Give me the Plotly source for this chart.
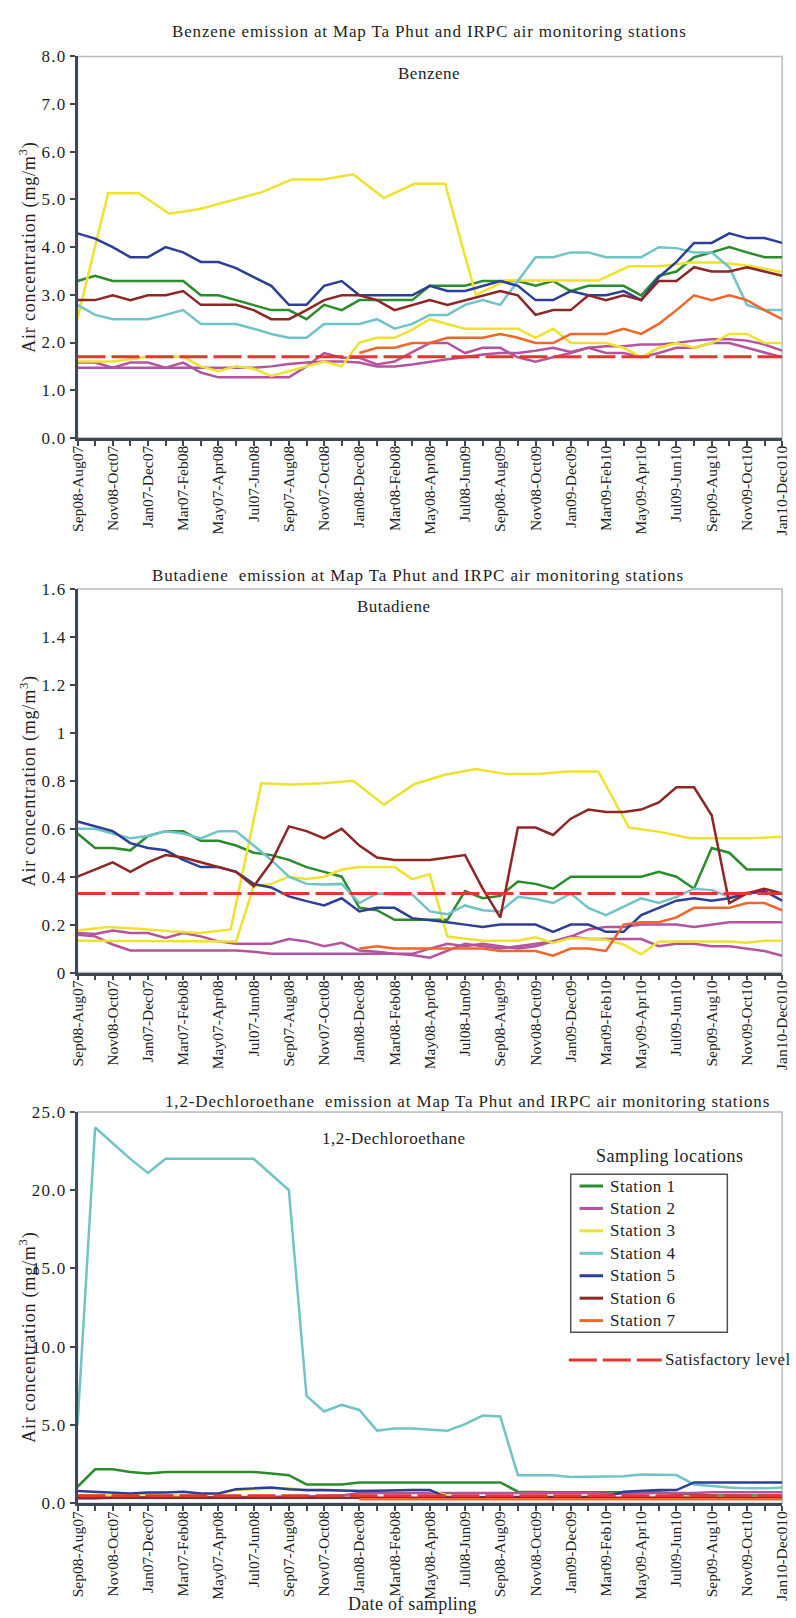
import plotly.graph_objects as go

# ---------------------------------------------------------------- data
period_labels = [
    "Sep08-Aug07", "Nov08-Oct07", "Jan07-Dec07", "Mar07-Feb08", "May07-Apr08",
    "Jul07-Jun08", "Sep07-Aug08", "Nov07-Oct08", "Jan08-Dec08", "Mar08-Feb08",
    "May08-Apr08", "Jul08-Jun09", "Sep08-Aug09", "Nov08-Oct09", "Jan09-Dec09",
    "Mar09-Feb10", "May09-Apr10", "Jul09-Jun10", "Sep09-Aug10", "Nov09-Oct10",
    "Jan10-Dec010",
]
months = list(range(41))                 # monthly sampling index
label_months = list(range(0, 41, 2))
# station 3 (upper record) was sampled 24 times over the same period
s3_samples = [k * 40 / 23 for k in range(24)]

stations = ["Station 1", "Station 2", "Station 3", "Station 4",
            "Station 5", "Station 6", "Station 7"]

benzene_ticks = ["0.0", "1.0", "2.0", "3.0", "4.0", "5.0", "6.0", "7.0", "8.0"]
butadiene_ticks = ["0", "0.2", "0.4", "0.6", "0.8", "1", "1.2", "1.4", "1.6"]
dce_ticks = ["0.0", "5.0", "10.0", "15.0", "20.0", "25.0"]

# Benzene (mg/m3)
benzene_s1 = [3.29, 3.40, 3.29, 3.29, 3.29, 3.29, 3.29, 2.99, 2.99, 2.89, 2.79, 2.68, 2.68, 2.49,
              2.79, 2.68, 2.89, 2.89, 2.89, 2.89, 3.19, 3.19, 3.19, 3.29, 3.29, 3.29, 3.19, 3.29,
              3.08, 3.19, 3.19, 3.19, 2.99, 3.40, 3.49, 3.79, 3.89, 4.00, 3.89, 3.79, 3.79]
benzene_s2 = [1.58, 1.58, 1.47, 1.58, 1.58, 1.47, 1.58, 1.37, 1.27, 1.27, 1.27, 1.27, 1.27, 1.50,
              1.78, 1.68, 1.68, 1.54, 1.60, 1.80, 1.99, 1.99, 1.78, 1.89, 1.89, 1.69, 1.60, 1.69,
              1.78, 1.89, 1.78, 1.78, 1.69, 1.78, 1.89, 1.89, 1.99, 1.99, 1.89, 1.78, 1.69]
benzene_s2b = [1.47, 1.47, 1.47, 1.47, 1.47, 1.47, 1.47, 1.47, 1.47, 1.47, 1.47, 1.50, 1.55, 1.58,
               1.60, 1.60, 1.58, 1.50, 1.50, 1.54, 1.60, 1.65, 1.69, 1.75, 1.78, 1.78, 1.83, 1.89,
               1.80, 1.89, 1.92, 1.92, 1.96, 1.96, 1.99, 2.04, 2.07, 2.07, 2.04, 1.96, 1.83]
benzene_s3 = [2.50, 5.13, 5.13, 4.70, 4.80, 4.97, 5.15, 5.42, 5.42, 5.53, 5.03, 5.33, 5.33, 3.00,
              3.30, 3.30, 3.30, 3.30, 3.60, 3.60, 3.68, 3.68, 3.60, 3.48]
benzene_s3b = [1.60, 1.60, 1.60, 1.65, 1.70, 1.70, 1.70, 1.50, 1.40, 1.50, 1.45, 1.30, 1.40, 1.50,
               1.60, 1.50, 2.00, 2.10, 2.10, 2.27, 2.49, 2.39, 2.29, 2.29, 2.29, 2.29, 2.10, 2.29,
               1.99, 1.99, 1.99, 1.89, 1.69, 1.89, 1.99, 1.89, 1.99, 2.18, 2.18, 1.99, 1.99]
benzene_s4 = [2.79, 2.58, 2.49, 2.49, 2.49, 2.58, 2.68, 2.39, 2.39, 2.39, 2.29, 2.18, 2.10, 2.10,
              2.39, 2.39, 2.39, 2.49, 2.29, 2.39, 2.58, 2.58, 2.79, 2.89, 2.79, 3.29, 3.79, 3.79,
              3.89, 3.89, 3.79, 3.79, 3.79, 4.00, 3.98, 3.89, 3.89, 3.58, 2.79, 2.68, 2.68]
benzene_s5 = [4.29, 4.18, 4.00, 3.79, 3.79, 4.00, 3.89, 3.69, 3.69, 3.56, 3.37, 3.19, 2.79, 2.79,
              3.19, 3.29, 2.99, 2.99, 2.99, 2.99, 3.19, 3.08, 3.08, 3.19, 3.29, 3.19, 2.89, 2.89,
              3.08, 2.99, 2.99, 3.08, 2.89, 3.37, 3.69, 4.09, 4.09, 4.29, 4.19, 4.19, 4.09]
benzene_s6 = [2.89, 2.89, 2.99, 2.89, 2.99, 2.99, 3.08, 2.79, 2.79, 2.79, 2.68, 2.49, 2.49, 2.68,
              2.89, 2.99, 2.99, 2.89, 2.68, 2.79, 2.89, 2.79, 2.89, 2.99, 3.08, 2.99, 2.58, 2.68,
              2.68, 2.99, 2.89, 2.99, 2.89, 3.29, 3.29, 3.58, 3.49, 3.49, 3.58, 3.49, 3.40]
benzene_s7 = [None] * 16 + [1.78, 1.89, 1.89, 1.99, 1.99, 2.10, 2.10, 2.10, 2.18, 2.10, 1.99, 1.99,
                            2.18, 2.18, 2.18, 2.29, 2.18, 2.39, 2.68, 2.99, 2.89, 2.99, 2.89, 2.68, 2.49]
benzene_limit = 1.7

# Butadiene (mg/m3)
butadiene_s1 = [0.58, 0.52, 0.52, 0.51, 0.57, 0.59, 0.59, 0.55, 0.55, 0.53, 0.50, 0.49, 0.47, 0.44,
                0.42, 0.40, 0.27, 0.26, 0.22, 0.22, 0.22, 0.22, 0.34, 0.31, 0.32, 0.38, 0.37, 0.35,
                0.40, 0.40, 0.40, 0.40, 0.40, 0.42, 0.40, 0.35, 0.52, 0.50, 0.43, 0.43, 0.43]
butadiene_s2 = [0.165, 0.161, 0.175, 0.165, 0.165, 0.144, 0.165, 0.151, 0.13, 0.12, 0.12, 0.12, 0.14,
                0.13, 0.11, 0.124, 0.092, 0.087, 0.078, 0.073, 0.062, 0.09, 0.12, 0.11, 0.10, 0.11,
                0.12, 0.13, 0.15, 0.14, 0.14, 0.14, 0.14, 0.11, 0.12, 0.12, 0.11, 0.11, 0.10, 0.09, 0.07]
butadiene_s2b = [0.158, 0.151, 0.117, 0.092, 0.092, 0.092, 0.092, 0.092, 0.092, 0.092, 0.087, 0.078,
                 0.078, 0.078, 0.078, 0.078, 0.078, 0.078, 0.078, 0.078, 0.10, 0.12, 0.11, 0.12, 0.11,
                 0.10, 0.11, 0.13, 0.15, 0.18, 0.19, 0.19, 0.20, 0.20, 0.20, 0.19, 0.20, 0.21, 0.21,
                 0.21, 0.21]
butadiene_s3 = [0.175, 0.19, 0.183, 0.172, 0.165, 0.18, 0.79, 0.785, 0.79, 0.80, 0.70, 0.787,
                0.825, 0.849, 0.828, 0.828, 0.839, 0.839, 0.605, 0.587, 0.56, 0.56, 0.56, 0.567]
butadiene_s3b = [0.133, 0.133, 0.133, 0.133, 0.133, 0.133, 0.133, 0.133, 0.133, 0.13, 0.36, 0.37,
                 0.40, 0.39, 0.40, 0.43, 0.44, 0.44, 0.44, 0.39, 0.41, 0.15, 0.14, 0.133, 0.133, 0.133,
                 0.147, 0.124, 0.144, 0.14, 0.137, 0.117, 0.076, 0.13, 0.13, 0.13, 0.13, 0.13, 0.124,
                 0.133, 0.133]
butadiene_s4 = [0.60, 0.60, 0.58, 0.56, 0.57, 0.59, 0.58, 0.56, 0.59, 0.59, 0.53, 0.47, 0.40, 0.37,
                0.367, 0.37, 0.29, 0.33, 0.326, 0.326, 0.255, 0.243, 0.28, 0.26, 0.255, 0.316, 0.307,
                0.29, 0.33, 0.27, 0.24, 0.275, 0.31, 0.29, 0.316, 0.35, 0.344, 0.316, 0.334, 0.334, 0.33]
butadiene_s5 = [0.63, 0.61, 0.59, 0.54, 0.52, 0.51, 0.47, 0.44, 0.44, 0.42, 0.37, 0.355, 0.318, 0.298,
                0.28, 0.31, 0.255, 0.27, 0.27, 0.227, 0.22, 0.21, 0.20, 0.19, 0.20, 0.20, 0.20, 0.17,
                0.20, 0.20, 0.17, 0.17, 0.24, 0.27, 0.30, 0.31, 0.30, 0.31, 0.33, 0.34, 0.30]
butadiene_s6 = [0.40, 0.43, 0.46, 0.42, 0.46, 0.49, 0.48, 0.46, 0.44, 0.42, 0.36, 0.46, 0.61, 0.59,
                0.56, 0.60, 0.53, 0.48, 0.47, 0.47, 0.47, 0.48, 0.49, 0.35, 0.23, 0.605, 0.605, 0.574,
                0.642, 0.68, 0.67, 0.67, 0.68, 0.71, 0.773, 0.773, 0.656, 0.29, 0.33, 0.35, 0.33]
butadiene_s7 = [None] * 16 + [0.10, 0.11, 0.10, 0.10, 0.10, 0.10, 0.10, 0.10, 0.09, 0.09, 0.09, 0.07,
                              0.10, 0.10, 0.09, 0.20, 0.21, 0.21, 0.23, 0.27, 0.27, 0.27, 0.29, 0.29, 0.26]
butadiene_limit = 0.33

# 1,2-Dichloroethane (mg/m3)
dce_s1 = [1.05, 2.17, 2.17, 2.00, 1.90, 2.00, 2.00, 2.00, 2.00, 2.00, 2.00, 1.90, 1.79, 1.20, 1.20,
          1.20, 1.33, 1.33, 1.33, 1.33, 1.33, 1.33, 1.33, 1.37, 1.33, 0.74, 0.70, 0.70, 0.70, 0.70,
          0.70, 0.70, 0.70, 0.70, 0.60, 0.55, 0.50, 0.50, 0.50, 0.50, 0.50]
dce_s2 = [0.30, 0.30, 0.35, 0.35, 0.40, 0.40, 0.40, 0.40, 0.40, 0.40, 0.40, 0.40, 0.45, 0.45, 0.45,
          0.50, 0.65, 0.65, 0.65, 0.65, 0.65, 0.65, 0.65, 0.65, 0.65, 0.65, 0.65, 0.65, 0.65, 0.65,
          0.60, 0.60, 0.65, 0.65, 0.65, 0.65, 0.70, 0.70, 0.70, 0.70, 0.70]
dce_s3 = [0.50, 0.55, 0.50, 0.50, 0.60, 0.50, 0.50, 0.55, 0.60, 0.84, 0.90, 0.95, 0.95, 0.80, 0.80,
          0.80, 0.80, 0.80, 0.80, 0.85, 0.80, 0.50, 0.30, 0.30, 0.30, 0.30, 0.30, 0.30, 0.30, 0.30,
          0.30, 0.35, 0.40, 0.40, 0.40, 0.40, 0.40, 0.40, 0.40, 0.40, 0.40]
dce_s4 = [5.00, 24.0, 23.0, 22.0, 21.1, 22.0, 22.0, 22.0, 22.0, 22.0, 22.0, 21.0, 20.0, 6.85, 5.86,
          6.28, 5.96, 4.64, 4.78, 4.78, 4.70, 4.63, 5.05, 5.60, 5.54, 1.79, 1.79, 1.79, 1.68, 1.68,
          1.68, 1.72, 1.83, 1.83, 1.80, 1.20, 1.10, 1.00, 0.95, 0.95, 1.00]
dce_s5 = [0.78, 0.74, 0.69, 0.63, 0.69, 0.69, 0.74, 0.63, 0.63, 0.90, 0.95, 1.00, 0.90, 0.84, 0.84,
          0.80, 0.78, 0.80, 0.84, 0.84, 0.84, 0.36, 0.36, 0.40, 0.40, 0.40, 0.40, 0.40, 0.42, 0.42,
          0.42, 0.74, 0.80, 0.84, 0.84, 1.33, 1.33, 1.33, 1.33, 1.33, 1.33]
dce_s6 = [0.35, 0.35, 0.35, 0.35, 0.35, 0.35, 0.35, 0.35, 0.35, 0.35, 0.35, 0.35, 0.35, 0.35, 0.35,
          0.35, 0.35, 0.35, 0.35, 0.35, 0.35, 0.35, 0.35, 0.35, 0.35, 0.35, 0.35, 0.35, 0.35, 0.35,
          0.35, 0.35, 0.35, 0.35, 0.35, 0.35, 0.35, 0.35, 0.35, 0.35, 0.35]
dce_s7 = [None] * 16 + [0.25, 0.25, 0.25, 0.25, 0.25, 0.25, 0.25, 0.25, 0.25, 0.25, 0.25, 0.25, 0.25,
                        0.25, 0.25, 0.25, 0.25, 0.25, 0.25, 0.25, 0.25, 0.25, 0.25, 0.25, 0.25]
dce_limit = 0.48

# ---------------------------------------------------------------- style
W, H = 796, 1618
SERIF = "Liberation Serif, Times New Roman, Times, serif"
INK = "#1e1e1e"
AXIS = "#3f4852"
FRAME = "#b7bbc0"
LIMIT_RED = "#e8342e"
colors = {
    "Station 1": "#2b8c2b",
    "Station 2": "#b4549f",
    "Station 3": "#efe22e",
    "Station 4": "#70c4c7",
    "Station 5": "#2b3f97",
    "Station 6": "#8e2626",
    "Station 7": "#f0652a",
}


def spaced(text, px):
    """Wrap text in a tspan with extra letter spacing (typeset look)."""
    return f"<span style='letter-spacing:{px}px'>{text}</span>"


def px_x(p):
    return p / W


def px_y(p):
    return 1 - p / H


# plot areas in pixels: (top, bottom)
panels = [(48, 434), (587, 975), (1116, 1512)]
x_left, x_right = 70, 790

fig = go.Figure()

panel_series = [
    [("Station 1", months, benzene_s1), ("Station 2", months, benzene_s2),
     ("Station 2", months, benzene_s2b), ("Station 3", s3_samples, benzene_s3),
     ("Station 3", months, benzene_s3b), ("Station 4", months, benzene_s4),
     ("Station 5", months, benzene_s5), ("Station 6", months, benzene_s6),
     ("Station 7", months, benzene_s7)],
    [("Station 1", months, butadiene_s1), ("Station 2", months, butadiene_s2),
     ("Station 2", months, butadiene_s2b), ("Station 3", s3_samples, butadiene_s3),
     ("Station 3", months, butadiene_s3b), ("Station 4", months, butadiene_s4),
     ("Station 5", months, butadiene_s5), ("Station 6", months, butadiene_s6),
     ("Station 7", months, butadiene_s7)],
    [("Station 1", months, dce_s1), ("Station 2", months, dce_s2), ("Station 3", months, dce_s3),
     ("Station 4", months, dce_s4), ("Station 5", months, dce_s5), ("Station 6", months, dce_s6),
     ("Station 7", months, dce_s7)],
]
limits = [benzene_limit, butadiene_limit, dce_limit]

for k, series in enumerate(panel_series):
    xa = "x" if k == 0 else f"x{k + 1}"
    ya = "y" if k == 0 else f"y{k + 1}"
    for name, xs, vals in series:
        fig.add_trace(go.Scatter(
            x=xs, y=vals, mode="lines", name=name,
            line=dict(color=colors[name], width=2.5),
            connectgaps=False, showlegend=False,
            xaxis=xa, yaxis=ya, hoverinfo="skip",
        ))
    # satisfactory level
    fig.add_shape(type="line", xref=f"{xa} domain", yref=ya,
                  x0=0, x1=1, y0=limits[k], y1=limits[k],
                  line=dict(color=LIMIT_RED, width=3, dash="28px,6px"))
    # light frame around the plotting area
    fig.add_shape(type="rect", xref=f"{xa} domain", yref=f"{ya} domain",
                  x0=0, x1=1, y0=0, y1=1, layer="below",
                  line=dict(color=FRAME, width=1.5))

axis_common = dict(
    showline=True, linecolor=AXIS, linewidth=2.5,
    ticks="outside", ticklen=5, tickwidth=1.5, tickcolor=AXIS,
    showgrid=False, zeroline=False,
    ticklabeloverflow="allow",
)

y_ranges = [[0, 8], [0, 1.6], [0, 25]]
y_tickvals = [[0, 1, 2, 3, 4, 5, 6, 7, 8],
              [0, 0.2, 0.4, 0.6, 0.8, 1.0, 1.2, 1.4, 1.6],
              [0, 5, 10, 15, 20, 25]]
y_ticktext = [benzene_ticks, butadiene_ticks, dce_ticks]

layout_axes = {}
for k, (top, bottom) in enumerate(panels):
    sx = "" if k == 0 else str(k + 1)
    layout_axes[f"xaxis{sx}"] = dict(
        axis_common,
        domain=[px_x(x_left), px_x(x_right)],
        anchor=f"y{sx}",
        range=[0, 40],
        tickmode="array", tickvals=label_months, ticktext=period_labels,
        tickangle=-90, ticklabelstandoff=-6,
        tickfont=dict(family=SERIF, size=15.5, color=INK),
        minor=dict(tickmode="array", tickvals=list(range(1, 40, 2)),
                   ticks="outside", ticklen=5, tickwidth=1.5, tickcolor=AXIS),
    )
    layout_axes[f"yaxis{sx}"] = dict(
        axis_common,
        domain=[px_y(bottom), px_y(top)],
        anchor=f"x{sx}",
        range=y_ranges[k],
        tickmode="array", tickvals=y_tickvals[k],
        ticktext=[spaced(t, 1.2) for t in y_ticktext[k]],
        tickfont=dict(family=SERIF, size=17, color=INK),
    )

fig.update_layout(
    width=W, height=H, autosize=False,
    margin=dict(l=0, r=0, t=0, b=0),
    paper_bgcolor="white", plot_bgcolor="white",
    font=dict(family=SERIF, color=INK),
    showlegend=False,
    **layout_axes,
)

# ---------------------------------------------------------------- key
key_top, key_step = 1191, 22.7
fig.add_shape(type="rect", xref="paper", yref="paper",
              x0=px_x(574), x1=px_x(734), y0=px_y(1339), y1=px_y(1179),
              line=dict(color="#4c545c", width=1.5), fillcolor="white", layer="below")
ann = []
for j, name in enumerate(stations):
    yy = key_top + j * key_step
    fig.add_shape(type="line", xref="paper", yref="paper",
                  x0=px_x(583), x1=px_x(607), y0=px_y(yy), y1=px_y(yy),
                  line=dict(color=colors[name], width=3))
    ann.append(dict(text=spaced(name, 0.5), x=px_x(612), y=px_y(yy), xref="paper", yref="paper",
                    showarrow=False, xanchor="left", yanchor="middle",
                    font=dict(family=SERIF, size=17, color=INK)))
fig.add_shape(type="line", xref="paper", yref="paper",
              x0=px_x(572), x1=px_x(667), y0=px_y(1367), y1=px_y(1367),
              line=dict(color=LIMIT_RED, width=3, dash="28px,6px"))

titles = [
    ("Benzene emission at Map Ta Phut and IRPC air monitoring stations", 430, 23),
    ("Butadiene  emission at Map Ta Phut and IRPC air monitoring stations", 418, 573),
    ("1,2-Dechloroethane  emission at Map Ta Phut and IRPC air monitoring stations", 468, 1105),
]
inner = [("Benzene", 429, 65), ("Butadiene", 393, 605), ("1,2-Dechloroethane", 393, 1143)]
ytitle_centres = [241, 781, 1344]

for text, cx, cy in titles:
    ann.append(dict(text=spaced(text.replace("  ", "&nbsp; "), 0.85), x=px_x(cx), y=px_y(cy),
                    xref="paper", yref="paper", showarrow=False,
                    xanchor="center", yanchor="middle",
                    font=dict(family=SERIF, size=17, color=INK)))
for text, cx, cy in inner:
    ann.append(dict(text=spaced(text, 0.5), x=px_x(cx), y=px_y(cy), xref="paper", yref="paper",
                    showarrow=False, xanchor="center", yanchor="middle",
                    font=dict(family=SERIF, size=17, color=INK)))
for cy in ytitle_centres:
    ann.append(dict(text=spaced("Air concentration (mg/m<sup>3</sup>)", 0.8),
                    x=px_x(20), y=px_y(cy),
                    xref="paper", yref="paper", showarrow=False, textangle=-90,
                    xanchor="center", yanchor="middle",
                    font=dict(family=SERIF, size=18, color=INK)))
ann.append(dict(text=spaced("Date of sampling", 0.3), x=px_x(412), y=px_y(1614),
                xref="paper", yref="paper", showarrow=False,
                xanchor="center", yanchor="middle",
                font=dict(family=SERIF, size=18, color=INK)))
ann.append(dict(text=spaced("Sampling locations", 0.5), x=px_x(675), y=px_y(1161),
                xref="paper", yref="paper", showarrow=False,
                xanchor="center", yanchor="middle",
                font=dict(family=SERIF, size=18, color=INK)))
ann.append(dict(text=spaced("Satisfactory level", 0.4), x=px_x(668), y=px_y(1367),
                xref="paper", yref="paper", showarrow=False,
                xanchor="left", yanchor="middle",
                font=dict(family=SERIF, size=17, color=INK)))
fig.update_layout(annotations=ann)

fig.write_html("out.html")
